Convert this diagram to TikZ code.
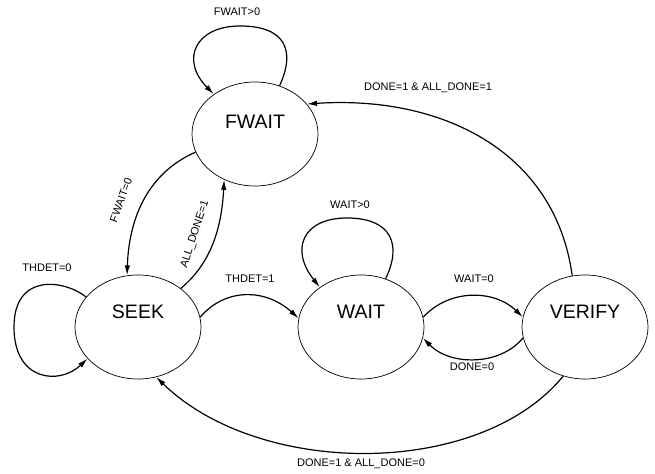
\documentclass[tikz,border=0pt]{standalone}
\usepackage{fontspec}
\setmainfont{Liberation Sans}
\usetikzlibrary{shapes.geometric,arrows.meta}
\begin{document}
\begin{tikzpicture}[x=1bp,y=-1bp,
  statenode/.style={ellipse,draw,line width=0.7bp,minimum width=126bp,minimum height=104bp,inner sep=0pt},
  stxt/.style={font=\fontsize{19.5bp}{22bp}\selectfont},
  elabel/.style={font=\fontsize{11bp}{13bp}\selectfont,inner sep=0.5bp},
  edge/.style={line width=1.2bp,-{Latex[length=10bp,width=5.5bp]}}]
\useasboundingbox (0,0) rectangle (655,474);
\node[statenode,label={[stxt,yshift=12bp]center:FWAIT}] (fw) at (255,134) {};
\node[statenode,label={[stxt,yshift=15bp]center:SEEK}] (sk) at (138,327) {};
\node[statenode,label={[stxt,yshift=15bp]center:WAIT}] (wt) at (361,327) {};
\node[statenode,label={[stxt,yshift=15bp]center:VERIFY}] (vf) at (585,327) {};
% FWAIT self loop
\draw[edge] (fw.63) .. controls (296,50) and (285,26) .. (240,26) .. controls (195,26) and (180,60) .. (fw.136);
% VERIFY -> FWAIT
\draw[edge] (vf.104) .. controls (555,150) and (440,95) .. (fw.30);
% FWAIT -> SEEK
\draw[edge] (fw.197) .. controls (150,172) and (129,215) .. (sk.102);
% SEEK -> FWAIT
\draw[edge] (sk.42) .. controls (215,260) and (222,220) .. (fw.236);
% SEEK self loop
\draw[edge] (sk.150) .. controls (65,280) and (14,272) .. (14,327) .. controls (14,382) and (60,385) .. (sk.212);
% SEEK -> WAIT
\draw[edge] (sk.9) .. controls (225,288) and (265,288) .. (wt.172);
% WAIT self loop
\draw[edge] (wt.63) .. controls (402,245) and (392,218) .. (347,218) .. controls (302,218) and (290,250) .. (wt.136);
% WAIT -> VERIFY
\draw[edge] (wt.9) .. controls (450,288) and (495,290) .. (vf.171);
% VERIFY -> WAIT
\draw[edge] (vf.190) .. controls (500,366) and (450,366) .. (wt.350);
% VERIFY -> SEEK
\draw[edge] (vf.246) .. controls (480,478) and (260,478) .. (sk.290);
% labels
\node[elabel] (l1) at (237,12) {FWAIT>0};
\node[elabel] (l2) at (428,88) {DONE=1 \& ALL\_DONE=1};
\node[elabel] (l3) at (47,268) {THDET=0};
\node[elabel] (l4) at (250,279) {THDET=1};
\node[elabel,rotate=70] (l5) at (121,200) {FWAIT=0};
\node[elabel,rotate=72] (l6) at (195,234) {ALL\_DONE=1};
\node[elabel] (l7) at (350,205) {WAIT>0};
\node[elabel] (l8) at (474,279) {WAIT=0};
\node[elabel] (l9) at (472,367) {DONE=0};
\node[elabel] (l10) at (361,464) {DONE=1 \& ALL\_DONE=0};
\end{tikzpicture}
\end{document}
